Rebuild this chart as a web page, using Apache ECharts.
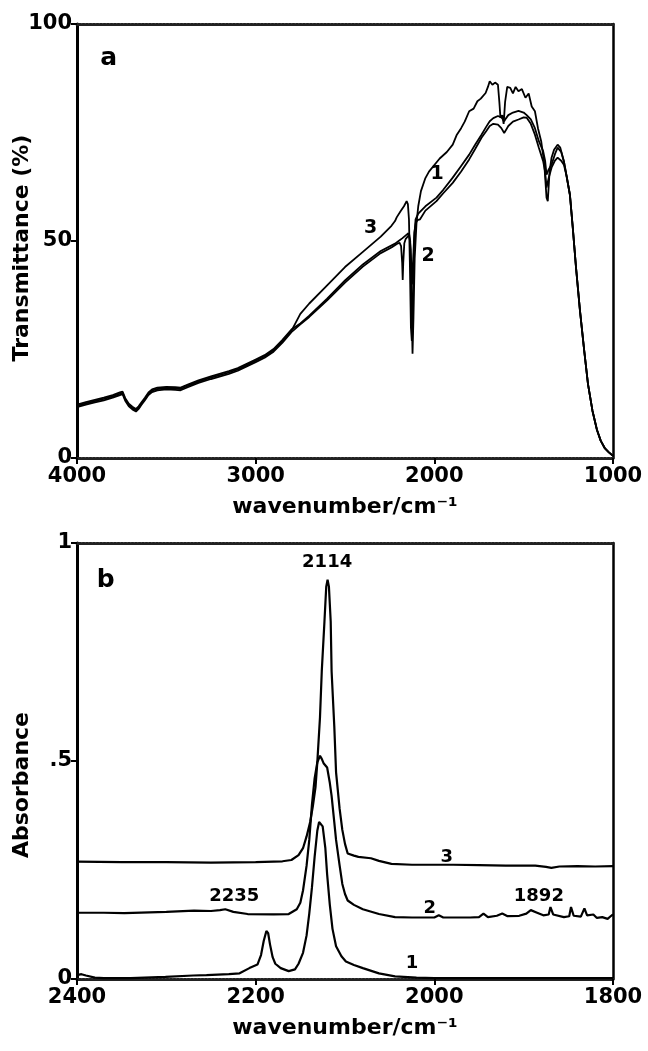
<!DOCTYPE html>
<html><head><meta charset="utf-8">
<script src="https://cdn.jsdelivr.net/npm/echarts@6/dist/echarts.min.js"></script>
<style>html,body{margin:0;padding:0;background:#fff}#c{width:648px;height:1051px}</style>
</head><body><div id="c"></div>
<script>
// ---------- Panel a: transmittance (%) vs wavenumber ----------
const commonA = [[4000,12.0],[3950,12.6],[3900,13.1],[3850,13.6],[3800,14.2],[3760,14.8],[3745,15.0],[3730,13.5],[3710,12.2],[3690,11.5],[3670,11.0],[3655,11.6],[3640,12.5],[3620,13.6],[3600,14.8],[3580,15.5],[3550,15.9],[3500,16.1],[3450,16.0],[3420,15.9],[3380,16.6],[3320,17.6],[3250,18.5],[3150,19.7],[3100,20.4],[3050,21.4],[3000,22.4],[2950,23.4],[2900,24.8],[2850,26.9],[2800,29.3]];
const tailA = [[1241,60.6],[1225,53],[1207,43.9],[1185,34],[1161,24.7],[1140,17],[1115,10.9],[1090,6.5],[1069,4.0],[1045,2.2],[1023,1.3],[1000,0.5]];
const curveA1 = [[2750,31.0],[2700,32.8],[2600,36.7],[2500,40.9],[2400,44.6],[2300,47.7],[2220,49.4],[2200,50.0],[2180,50.6],[2160,51.3],[2145,51.8],[2135,50],[2128,36],[2122,24],[2117,32],[2110,46],[2100,54],[2090,58],[2075,61.5],[2050,64.5],[2030,66],[2000,67.5],[1970,69],[1930,70.5],[1897,72.2],[1874,74.5],[1850,76],[1830,77.5],[1805,79.9],[1780,80.5],[1759,82.2],[1740,82.8],[1713,84.1],[1700,85.5],[1690,86.8],[1675,86],[1660,86.5],[1644,86],[1636,82],[1630,78.4],[1620,79],[1612,77],[1604,82],[1592,85.5],[1575,85.3],[1560,84],[1545,85.5],[1529,84.5],[1510,85],[1490,83],[1472,84],[1455,81],[1437,79.9],[1420,76],[1402,73],[1385,68],[1372,60],[1365,59.2],[1355,66],[1344,69.2],[1330,71],[1310,72.2],[1295,71.5],[1275,68.4],[1260,65]];
const curveA2 = [[2750,30.8],[2700,32.5],[2600,36.3],[2500,40.4],[2400,44.1],[2300,47.2],[2240,48.5],[2210,49.3],[2195,49.6],[2186,48.8],[2180,45],[2177,41],[2174,45],[2168,49.5],[2160,50.5],[2140,51.5],[2132,48],[2125,40],[2120,44],[2112,52],[2104,54.2],[2095,54.8],[2080,55.0],[2050,57.0],[1988,59.2],[1950,61],[1897,63.4],[1850,66],[1805,68.8],[1770,71.3],[1736,73.8],[1710,75.3],[1690,76.5],[1670,77],[1644,76.8],[1625,76],[1609,74.9],[1600,75.5],[1586,76.5],[1560,77.5],[1529,78],[1500,78.5],[1483,78.4],[1460,77],[1437,74.5],[1415,71.5],[1391,68.4],[1380,66],[1372,62.3],[1360,64.5],[1344,66.9],[1325,68.5],[1310,69.2],[1290,68.5],[1275,67.6],[1260,65]];
const curveA3 = [[2750,33.2],[2700,35.6],[2600,39.8],[2500,44.0],[2400,47.5],[2300,51.0],[2240,53.5],[2220,54.6],[2210,55.5],[2190,56.8],[2170,58.0],[2155,59.2],[2148,58.5],[2142,55],[2137,45],[2131,30],[2126,27],[2121,36],[2113,50],[2105,55],[2090,56.3],[2050,58.0],[1988,60],[1950,61.8],[1897,64.6],[1850,67.3],[1805,69.9],[1770,72.3],[1736,74.5],[1710,76.3],[1690,77.6],[1670,78.3],[1644,78.8],[1625,78.5],[1609,77.6],[1600,78.2],[1586,79],[1560,79.6],[1529,80],[1500,79.6],[1483,79],[1460,78],[1437,76],[1415,73],[1391,70.7],[1380,68.5],[1372,65.3],[1360,66.5],[1344,67.6],[1325,70],[1310,71.5],[1290,70.5],[1275,68.4],[1260,65]];
const labelsA = [[3823,92,'a'],[1985,65.5,'1'],[2035,46.5,'2'],[2356,53,'3']];

// ---------- Panel b: absorbance vs wavenumber ----------
const curveB1 = [[2400,0.009],[2395,0.011],[2390,0.008],[2380,0.003],[2370,0.002],[2340,0.002],[2301,0.005],[2270,0.008],[2255,0.009],[2230,0.011],[2218,0.013],[2207,0.025],[2198,0.033],[2194,0.055],[2191,0.087],[2188,0.110],[2186,0.105],[2184,0.08],[2181,0.05],[2178,0.035],[2172,0.025],[2163,0.018],[2156,0.022],[2152,0.035],[2147,0.06],[2143,0.10],[2140,0.15],[2137,0.21],[2134,0.28],[2131,0.34],[2129,0.36],[2127,0.362],[2125,0.35],[2122,0.30],[2120,0.24],[2117,0.17],[2114,0.115],[2110,0.075],[2104,0.052],[2099,0.040],[2090,0.032],[2080,0.025],[2062,0.013],[2044,0.006],[2020,0.003],[2000,0.002],[1900,0.002],[1800,0.002]];
const curveB2 = [[2400,0.152],[2370,0.152],[2347,0.151],[2300,0.154],[2269,0.157],[2250,0.156],[2240,0.158],[2234,0.16],[2225,0.154],[2209,0.149],[2180,0.148],[2163,0.149],[2154,0.160],[2150,0.175],[2147,0.203],[2143,0.26],[2140,0.319],[2137,0.40],[2134,0.46],[2131,0.497],[2128,0.512],[2126,0.505],[2124,0.495],[2120,0.485],[2117,0.45],[2115,0.42],[2112,0.36],[2110,0.319],[2106,0.26],[2103,0.218],[2100,0.195],[2097,0.18],[2090,0.17],[2080,0.16],[2062,0.149],[2044,0.142],[2025,0.141],[2000,0.141],[1995,0.146],[1990,0.141],[1979,0.141],[1960,0.141],[1950,0.142],[1945,0.150],[1940,0.142],[1930,0.145],[1924,0.150],[1918,0.144],[1905,0.145],[1897,0.150],[1892,0.158],[1885,0.152],[1878,0.146],[1872,0.148],[1870,0.165],[1867,0.148],[1855,0.142],[1849,0.144],[1847,0.165],[1844,0.145],[1836,0.143],[1832,0.162],[1829,0.146],[1822,0.148],[1818,0.140],[1812,0.142],[1806,0.138],[1802,0.145],[1800,0.148]];
const curveB3 = [[2400,0.269],[2350,0.268],[2300,0.268],[2250,0.267],[2200,0.268],[2170,0.270],[2160,0.273],[2152,0.284],[2147,0.300],[2143,0.327],[2139,0.36],[2136,0.396],[2133,0.44],[2131,0.497],[2128,0.60],[2126,0.706],[2123,0.82],[2121,0.90],[2119.5,0.916],[2118,0.90],[2116,0.82],[2115,0.706],[2112,0.58],[2110,0.474],[2106,0.39],[2103,0.342],[2100,0.31],[2097,0.288],[2090,0.283],[2085,0.280],[2071,0.277],[2062,0.271],[2048,0.264],[2025,0.262],[2000,0.262],[1979,0.262],[1950,0.261],[1920,0.260],[1887,0.260],[1875,0.257],[1869,0.255],[1860,0.258],[1840,0.259],[1820,0.258],[1800,0.259]];
const labelsB = [[2368,0.915,'b'],[2120,0.955,'2114'],[2224,0.19,'2235'],[1883,0.19,'1892'],[1986,0.28,'3'],[2005,0.163,'2'],[2025,0.035,'1']];

const xTicksA = [1000, 4000, 1000]; // min, max, interval
const xTicksB = [1800, 2400, 200];
const yTickLabelsB = {0:'0', 0.5:'.5', 1:'1'};

const FONT = 'DejaVu Sans';
const chart = echarts.init(document.getElementById('c'), null, {renderer:'canvas'});
const frameDotted = {show:true, onZero:false, lineStyle:{color:'#222', width:3, type:[2,1.5]}};
const solidLine = {show:true, onZero:false, lineStyle:{color:'#000', width:2.5}};
const axisText = {color:'#000', fontFamily:FONT, fontWeight:'bold', fontSize:21};
const nameText = {color:'#000', fontFamily:FONT, fontWeight:'bold', fontSize:22};

function xAxes(grid, t){
  return [{
    type:'value', gridIndex:grid, min:t[0], max:t[1], interval:t[2], inverse:true, position:'bottom',
    axisLine:frameDotted, axisTick:{show:true, inside:false, length:6, lineStyle:{color:'#000', width:2}},
    axisLabel:Object.assign({margin:8, formatter:v=>String(v)}, axisText), splitLine:{show:false},
    name:'wavenumber/cm⁻¹', nameLocation:'middle', nameGap:38, nameMoveOverlap:false, nameTextStyle:nameText
  },{
    type:'value', gridIndex:grid, min:t[0], max:t[1], inverse:true, position:'top',
    axisLine:frameDotted, axisTick:{show:false}, axisLabel:{show:false}, splitLine:{show:false}
  }];
}
function yAxes(grid, min, max, interval, name, fmt, pad){
  return [{
    type:'value', gridIndex:grid, min:min, max:max, interval:interval, position:'left',
    axisLine:{show:true, onZero:false, lineStyle:{color:'#000', width:3}},
    axisTick:{show:true, length:6, lineStyle:{color:'#000', width:2}},
    axisLabel:Object.assign({margin:5, formatter:fmt}, axisText), splitLine:{show:false},
    name:name, nameLocation:'middle', nameGap:44, nameMoveOverlap:false,
    nameTextStyle:Object.assign({padding:pad}, nameText)
  },{
    type:'value', gridIndex:grid, min:min, max:max, position:'right',
    axisLine:solidLine, axisTick:{show:false}, axisLabel:{show:false}, splitLine:{show:false}
  }];
}
function line(data, xi, yi, w){
  return {type:'line', xAxisIndex:xi, yAxisIndex:yi, data:data, showSymbol:false, symbol:'none',
    smooth:false, lineStyle:{color:'#000', width:w||1.8}, z:3, silent:true, animation:false};
}
function labels(data, xi, yi, size){
  return {type:'scatter', xAxisIndex:xi, yAxisIndex:yi, data:data, symbolSize:1, silent:true, animation:false,
    itemStyle:{opacity:0}, emphasis:{disabled:true},
    label:{show:true, position:'inside', formatter:p=>p.value[2], color:'#000', opacity:1, fontFamily:FONT, fontWeight:'bold',
      fontSize:size}, z:5};
}
const a1 = commonA.map(p=>[p[0],p[1]+0.3]).concat(curveA1, tailA);
const a2 = commonA.map(p=>[p[0],p[1]-0.3]).concat(curveA2, tailA);
const a3 = commonA.concat(curveA3, tailA);

const ya = yAxes(0, 0, 100, 50, 'Transmittance (%)', v=>String(v), [0,14,0,0]);
const yb = yAxes(1, 0, 1, 0.5, 'Absorbance', v=>yTickLabelsB[v], [0,48,0,0]);

chart.setOption({
  animation:false,
  backgroundColor:'#fff',
  grid:[{left:77, right:35, top:24, height:434, outerBoundsMode:'none', containLabel:false},
        {left:77, right:35, top:543, height:436, outerBoundsMode:'none', containLabel:false}],
  xAxis: xAxes(0, xTicksA).concat(xAxes(1, xTicksB)),
  yAxis: ya.concat(yb),
  series:[
    line(a1,0,0), line(a2,0,0), line(a3,0,0),
    line(curveB1,2,2,2.2), line(curveB2,2,2,2.2), line(curveB3,2,2,2.2),
    labels(labelsA.slice(0,1),0,0,25),
    labels(labelsA.slice(1),0,0,19),
    labels(labelsB.slice(0,1),2,2,25),
    labels(labelsB.slice(1),2,2,18)
  ]
});
</script></body></html>
